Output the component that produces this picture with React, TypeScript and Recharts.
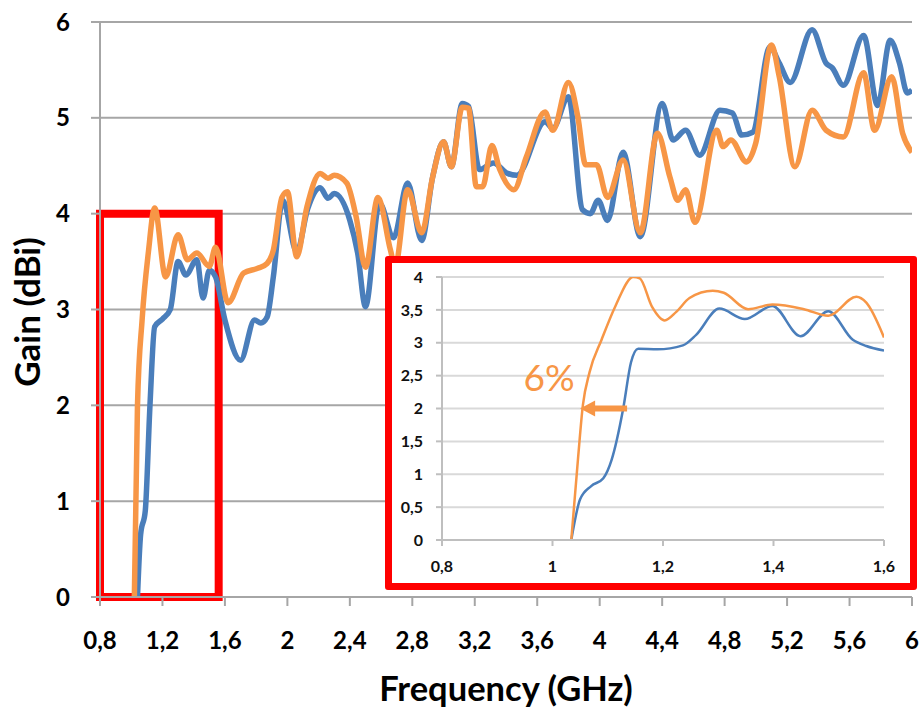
import React from 'react';
import {
  LineChart,
  Line,
  XAxis,
  YAxis,
  CartesianGrid,
  ReferenceArea,
  ReferenceLine,
  ReferenceDot,
  Label,
} from 'recharts';

// ---------- DATA ----------
const mainTicksX = [0.8, 1.2, 1.6, 2, 2.4, 2.8, 3.2, 3.6, 4, 4.4, 4.8, 5.2, 5.6, 6];
const mainTicksY = [0, 1, 2, 3, 4, 5, 6];
const insetTicksX = [0.8, 1, 1.2, 1.4, 1.6];
const insetTicksY = [0, 0.5, 1, 1.5, 2, 2.5, 3, 3.5, 4];

const freqBlueMain = [1.04, 1.06, 1.09, 1.12, 1.15, 1.2, 1.25, 1.3, 1.35, 1.42, 1.46, 1.5, 1.54, 1.6, 1.7, 1.79, 1.83, 1.87, 1.91, 1.97, 2.06, 2.13, 2.21, 2.26, 2.3, 2.4, 2.45, 2.5, 2.59, 2.68, 2.77, 2.86, 2.93, 3.0, 3.05, 3.12, 3.16, 3.23, 3.32, 3.41, 3.47, 3.65, 3.7, 3.8, 3.89, 3.94, 3.99, 4.05, 4.15, 4.26, 4.4, 4.47, 4.55, 4.64, 4.77, 4.85, 4.91, 4.98, 5.09, 5.15, 5.22, 5.36, 5.45, 5.49, 5.56, 5.69, 5.78, 5.86, 5.92, 5.97, 6.0];
const gainBlueMain = [0, 0.65, 0.9, 2.0, 2.82, 2.9, 3.0, 3.5, 3.36, 3.52, 3.12, 3.41, 3.34, 2.89, 2.47, 2.89, 2.86, 2.92, 3.34, 4.14, 3.6, 4.05, 4.27, 4.16, 4.21, 3.93, 3.59, 3.03, 4.11, 3.75, 4.32, 3.72, 4.38, 4.75, 4.49, 5.15, 5.12, 4.46, 4.53, 4.42, 4.4, 4.96, 4.89, 5.22, 4.04, 4.0, 4.14, 3.93, 4.64, 3.76, 5.15, 4.77, 4.87, 4.61, 5.08, 5.05, 4.82, 4.85, 5.74, 5.57, 5.37, 5.92, 5.57, 5.52, 5.34, 5.86, 5.13, 5.81, 5.57, 5.26, 5.29];

const freqOrangeMain = [1.02, 1.04, 1.07, 1.11, 1.15, 1.22, 1.3, 1.36, 1.42, 1.5, 1.54, 1.62, 1.72, 1.81, 1.87, 1.91, 1.965, 2.0, 2.06, 2.125, 2.21, 2.26, 2.3, 2.38, 2.44, 2.5, 2.58, 2.66, 2.69, 2.77, 2.86, 2.93, 3.0, 3.05, 3.12, 3.16, 3.21, 3.25, 3.31, 3.36, 3.45, 3.53, 3.65, 3.7, 3.8, 3.86, 3.91, 3.98, 4.05, 4.15, 4.26, 4.37, 4.45, 4.5, 4.55, 4.61, 4.75, 4.79, 4.84, 4.94, 5.0, 5.1, 5.15, 5.25, 5.36, 5.45, 5.56, 5.69, 5.76, 5.87, 5.94, 6.0];
const gainOrangeMain = [0, 2.0, 2.9, 3.6, 4.06, 3.34, 3.78, 3.52, 3.59, 3.45, 3.65, 3.07, 3.38, 3.43, 3.48, 3.62, 4.17, 4.23, 3.55, 4.07, 4.42, 4.37, 4.4, 4.32, 3.97, 3.44, 4.17, 3.62, 3.45, 4.25, 3.8, 4.38, 4.75, 4.49, 5.11, 5.1, 4.28, 4.28, 4.71, 4.46, 4.25, 4.59, 5.06, 4.87, 5.37, 5.01, 4.51, 4.51, 4.17, 4.56, 3.8, 4.84, 4.38, 4.14, 4.25, 3.91, 4.87, 4.7, 4.77, 4.54, 4.74, 5.76, 5.43, 4.49, 5.08, 4.87, 4.8, 5.47, 4.87, 5.43, 4.84, 4.64];

const freqBlueInset = [1.034, 1.05, 1.07, 1.092, 1.107, 1.128, 1.142, 1.155, 1.19, 1.236, 1.26, 1.302, 1.348, 1.398, 1.449, 1.499, 1.543, 1.568, 1.6];
const gainBlueInset = [0, 0.62, 0.82, 0.94, 1.22, 2.0, 2.7, 2.91, 2.9, 2.96, 3.12, 3.52, 3.36, 3.56, 3.1, 3.48, 3.05, 2.95, 2.88];

const freqOrangeInset = [1.034, 1.046, 1.055, 1.067, 1.089, 1.114, 1.146, 1.158, 1.18, 1.203, 1.224, 1.248, 1.29, 1.31, 1.354, 1.398, 1.455, 1.499, 1.55, 1.568, 1.6];
const gainOrangeInset = [0, 1.22, 2.05, 2.55, 3.05, 3.56, 4.0, 3.98, 3.55, 3.34, 3.47, 3.68, 3.79, 3.76, 3.51, 3.58, 3.51, 3.41, 3.7, 3.61, 3.08];

// annotation: 6% shift at gain = 2 dBi
const arrowLevel = 2;
const arrowFrom = 1.135;
const arrowTo = 1.05;
const annotationText = '6%';

// ---------- STYLE ----------
const BLUE = '#4A7EBB';
const ORANGE = '#F79646';
const RED = '#FF0000';
const FONT = 'Lato, "Open Sans", sans-serif';

const zip = (fs: number[], gs: number[]) => fs.map((f, i) => ({ f, g: gs[i] }));
const blueMain = zip(freqBlueMain, gainBlueMain);
const orangeMain = zip(freqOrangeMain, gainOrangeMain);
const blueInset = zip(freqBlueInset, gainBlueInset);
const orangeInset = zip(freqOrangeInset, gainOrangeInset);

const fmt = (v: number) => String(v).replace('.', ',');

const ArrowShape = (p: any) => {
  const { x1, y1, x2, y2 } = p;
  const tip = Math.min(x1, x2);
  const start = Math.max(x1, x2);
  const y = (y1 + y2) / 2;
  return (
    <g>
      <line x1={start} y1={y} x2={tip + 12} y2={y} stroke={ORANGE} strokeWidth={6} />
      <polygon points={`${tip},${y} ${tip + 15},${y - 8} ${tip + 15},${y + 8}`} fill={ORANGE} />
    </g>
  );
};

const TextShape = (p: any) => (
  <text x={p.cx} y={p.cy} textAnchor="middle" fontSize={37} fill={ORANGE} fontFamily={FONT}>
    {annotationText}
  </text>
);

export default function App() {
  const mainGrid = '#A6A6A6';
  const insetGrid = '#D9D9D9';
  return (
    <div style={{ position: 'absolute', left: 0, top: 0, width: 924, height: 710, background: '#fff' }}>
      <LineChart width={924} height={710} margin={{ top: 22, right: 12, bottom: 53, left: 0 }}>
        <CartesianGrid vertical={false} stroke={mainGrid} strokeWidth={2} />
        <XAxis
          type="number"
          dataKey="f"
          domain={[0.8, 6]}
          ticks={mainTicksX}
          interval={0}
          tickFormatter={fmt}
          height={60}
          tickSize={9}
          tickMargin={26}
          allowDataOverflow
          axisLine={{ stroke: mainGrid, strokeWidth: 2 }}
          tickLine={{ stroke: mainGrid, strokeWidth: 2 }}
          tick={{ fill: '#000', fontSize: 24, fontWeight: 700, fontFamily: FONT }}
        >
          <Label
            content={() => (
              <text x={506} y={701} textAnchor="middle" fontSize={34.5} fontWeight={700} fontFamily={FONT} fill="#000">
                Frequency (GHz)
              </text>
            )}
          />
        </XAxis>
        <YAxis
          type="number"
          domain={[0, 6]}
          ticks={mainTicksY}
          interval={0}
          width={100}
          tickSize={9}
          tickMargin={21}
          allowDataOverflow
          axisLine={{ stroke: mainGrid, strokeWidth: 2 }}
          tickLine={{ stroke: mainGrid, strokeWidth: 2 }}
          tick={{ fill: '#000', fontSize: 24, fontWeight: 700, fontFamily: FONT }}
        >
          <Label
            content={() => (
              <text
                x={40}
                y={312}
                transform="rotate(-90 40 312)"
                textAnchor="middle"
                fontSize={35}
                fontWeight={700}
                fontFamily={FONT}
                fill="#000"
              >
                Gain (dBi)
              </text>
            )}
          />
        </YAxis>
        <ReferenceArea x1={0.8} x2={1.56} y1={0} y2={4} fill="none" fillOpacity={0} stroke={RED} strokeWidth={8} />
        <Line data={blueMain} dataKey="g" type="monotone" stroke={BLUE} strokeWidth={5.5} dot={false} isAnimationActive={false} />
        <Line data={orangeMain} dataKey="g" type="monotone" stroke={ORANGE} strokeWidth={5.5} dot={false} isAnimationActive={false} />
      </LineChart>

      <div
        style={{
          position: 'absolute',
          left: 385,
          top: 256,
          width: 532,
          height: 334,
          boxSizing: 'border-box',
          border: `7px solid ${RED}`,
          borderRadius: 3,
          background: '#fff',
        }}
      >
        <LineChart width={518} height={320} margin={{ top: 14, right: 26, bottom: 0, left: 0 }}>
          <CartesianGrid vertical={false} stroke={insetGrid} strokeWidth={2} />
          <XAxis
            type="number"
            dataKey="f"
            domain={[0.8, 1.6]}
            ticks={insetTicksX}
            interval={0}
            tickFormatter={fmt}
            height={43}
            tickSize={6}
            tickMargin={15}
            allowDataOverflow
            axisLine={{ stroke: '#BFBFBF', strokeWidth: 2 }}
            tickLine={{ stroke: '#BFBFBF', strokeWidth: 2 }}
            tick={{ fill: '#111', fontSize: 16, fontWeight: 700, fontFamily: FONT }}
          />
          <YAxis
            type="number"
            domain={[0, 4]}
            ticks={insetTicksY}
            interval={0}
            tickFormatter={fmt}
            width={50}
            tickSize={6}
            tickMargin={13}
            allowDataOverflow
            axisLine={{ stroke: '#BFBFBF', strokeWidth: 2 }}
            tickLine={{ stroke: '#BFBFBF', strokeWidth: 2 }}
            tick={{ fill: '#111', fontSize: 16, fontWeight: 700, fontFamily: FONT }}
          />
          <Line data={blueInset} dataKey="g" type="monotone" stroke={BLUE} strokeWidth={2.5} dot={false} isAnimationActive={false} />
          <Line data={orangeInset} dataKey="g" type="monotone" stroke={ORANGE} strokeWidth={2.5} dot={false} isAnimationActive={false} />
          <ReferenceLine
            segment={[
              { x: arrowFrom, y: arrowLevel },
              { x: arrowTo, y: arrowLevel },
            ]}
            shape={ArrowShape}
          />
          <ReferenceDot x={0.994} y={2.26} r={0} shape={TextShape} />
        </LineChart>
      </div>
    </div>
  );
}
